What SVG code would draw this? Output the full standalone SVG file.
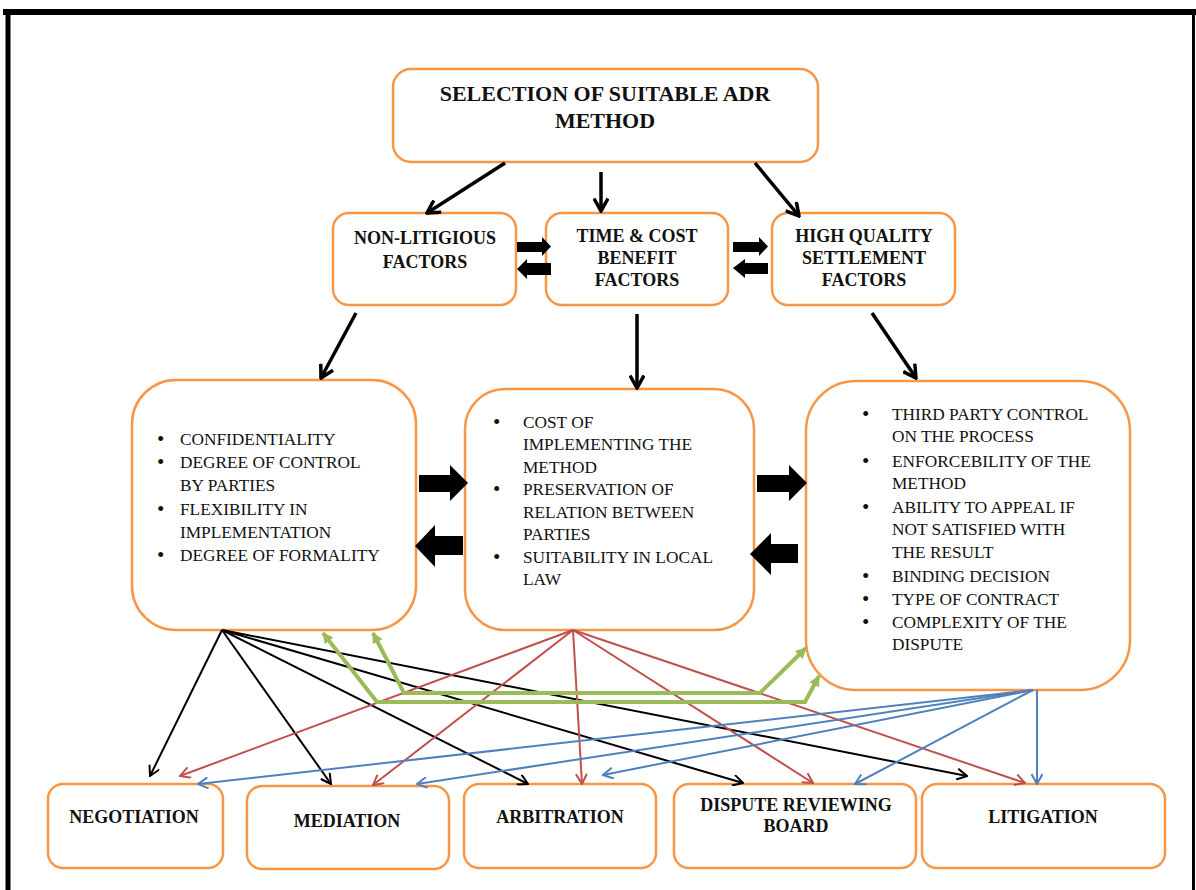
<svg xmlns="http://www.w3.org/2000/svg" width="1196" height="890" viewBox="0 0 1196 890">
<style>
.box{fill:#fff;stroke:#F79646;stroke-width:2.5}
.t{font-family:"Liberation Serif","Times New Roman",serif;fill:#111}
.h{font-weight:bold;font-size:18px;text-anchor:middle}
.ht{font-weight:bold;font-size:22px;text-anchor:middle}
.b{font-size:17.3px}
.bu{font-size:21px}
.blk{stroke:#000;stroke-width:2;fill:none;marker-end:url(#mk)}
.red{stroke:#C0504D;stroke-width:2;fill:none;marker-end:url(#mr)}
.blu{stroke:#4F81BD;stroke-width:2;fill:none;marker-end:url(#mb)}
.grn{stroke:#9BBB59;stroke-width:4;fill:none;stroke-linejoin:miter;marker-start:url(#mg);marker-end:url(#mg)}
.big{stroke:#000;stroke-width:3.5;fill:none;marker-end:url(#mK)}
.blk-arrow{fill:#000}
</style>
<defs>
<marker id="mk" markerUnits="userSpaceOnUse" viewBox="0 0 12 12" markerWidth="12" markerHeight="12" refX="11" refY="6" orient="auto"><path d="M1,0.5 L11,6 L1,11.5" fill="none" stroke="#000" stroke-width="2"/></marker>
<marker id="mr" markerUnits="userSpaceOnUse" viewBox="0 0 12 12" markerWidth="12" markerHeight="12" refX="11" refY="6" orient="auto"><path d="M1,0.5 L11,6 L1,11.5" fill="none" stroke="#C0504D" stroke-width="2"/></marker>
<marker id="mb" markerUnits="userSpaceOnUse" viewBox="0 0 12 12" markerWidth="12" markerHeight="12" refX="11" refY="6" orient="auto"><path d="M1,0.5 L11,6 L1,11.5" fill="none" stroke="#4F81BD" stroke-width="2"/></marker>
<marker id="mK" markerUnits="userSpaceOnUse" viewBox="0 0 16 16" markerWidth="16" markerHeight="16" refX="14" refY="8" orient="auto"><path d="M1.5,1 L14,8 L1.5,15" fill="none" stroke="#000" stroke-width="3.5"/></marker>
<marker id="mg" markerUnits="userSpaceOnUse" viewBox="0 0 12 12" markerWidth="12" markerHeight="12" refX="10" refY="6" orient="auto-start-reverse"><path d="M0,0.5 L11,6 L0,11.5 Z" fill="#9BBB59"/></marker>
</defs>
<rect x="0" y="0" width="1196" height="890" fill="#fff"/>
<g id="frame" fill="none" stroke="#000">
<path d="M3,12 H1196" stroke-width="6"/>
<path d="M8,10 V890" stroke-width="5"/>
<path d="M1193.5,10 V890" stroke-width="3"/>
</g>

<g id="n-top"><rect class="box" x="393" y="69" width="425" height="93" rx="18"/>
<text class="t ht" x="605" y="101">SELECTION OF SUITABLE ADR</text>
<text class="t ht" x="605" y="128">METHOD</text></g>

<g id="n-nonlit"><rect class="box" x="333" y="213" width="183" height="92" rx="16"/>
<text class="t h" x="425" y="244">NON-LITIGIOUS</text>
<text class="t h" x="425" y="268">FACTORS</text></g>

<g id="n-timecost"><rect class="box" x="546" y="213" width="182" height="92" rx="16"/>
<text class="t h" x="637" y="242">TIME &amp; COST</text>
<text class="t h" x="637" y="264">BENEFIT</text>
<text class="t h" x="637" y="286">FACTORS</text></g>

<g id="n-quality"><rect class="box" x="772" y="213" width="183" height="92" rx="16"/>
<text class="t h" x="864" y="242">HIGH QUALITY</text>
<text class="t h" x="864" y="264">SETTLEMENT</text>
<text class="t h" x="864" y="286">FACTORS</text></g>

<g id="n-list1"><rect class="box" x="132" y="380" width="284" height="250" rx="44"/>
<g class="t b">
<text class="bu" x="157" y="446">•</text><text x="180" y="445">CONFIDENTIALITY</text>
<text class="bu" x="157" y="469">•</text><text x="180" y="468">DEGREE OF CONTROL</text>
<text x="180" y="491">BY PARTIES</text>
<text class="bu" x="157" y="516">•</text><text x="180" y="515">FLEXIBILITY IN</text>
<text x="180" y="538">IMPLEMENTATION</text>
<text class="bu" x="157" y="562">•</text><text x="180" y="561">DEGREE OF FORMALITY</text>
</g></g>

<g id="n-list2"><rect class="box" x="465" y="389" width="289" height="241" rx="40"/>
<g class="t b">
<text class="bu" x="493" y="429">•</text><text x="523" y="428">COST OF</text>
<text x="523" y="450">IMPLEMENTING THE</text>
<text x="523" y="473">METHOD</text>
<text class="bu" x="493" y="496">•</text><text x="523" y="495">PRESERVATION OF</text>
<text x="523" y="518">RELATION BETWEEN</text>
<text x="523" y="540">PARTIES</text>
<text class="bu" x="493" y="564">•</text><text x="523" y="563">SUITABILITY IN LOCAL</text>
<text x="523" y="585">LAW</text>
</g></g>

<g id="n-list3"><rect class="box" x="806" y="381" width="324" height="309" rx="50"/>
<g class="t b">
<text class="bu" x="862" y="421">•</text><text x="892" y="420">THIRD PARTY CONTROL</text>
<text x="892" y="442">ON THE PROCESS</text>
<text class="bu" x="862" y="468">•</text><text x="892" y="467">ENFORCEBILITY OF THE</text>
<text x="892" y="489">METHOD</text>
<text class="bu" x="862" y="514">•</text><text x="892" y="513">ABILITY TO APPEAL IF</text>
<text x="892" y="535">NOT SATISFIED WITH</text>
<text x="892" y="558">THE RESULT</text>
<text class="bu" x="862" y="583">•</text><text x="892" y="582">BINDING DECISION</text>
<text class="bu" x="862" y="606">•</text><text x="892" y="605">TYPE OF CONTRACT</text>
<text class="bu" x="862" y="629">•</text><text x="892" y="628">COMPLEXITY OF THE</text>
<text x="892" y="650">DISPUTE</text>
</g></g>

<g id="n-negotiation"><rect class="box" x="48" y="784" width="175" height="84" rx="15"/>
<text class="t h" x="134" y="823">NEGOTIATION</text></g>
<g id="n-mediation"><rect class="box" x="247" y="786" width="202" height="83" rx="15"/>
<text class="t h" x="347" y="827">MEDIATION</text></g>
<g id="n-arbitration"><rect class="box" x="464" y="784" width="192" height="84" rx="15"/>
<text class="t h" x="560" y="823">ARBITRATION</text></g>
<g id="n-drb"><rect class="box" x="674" y="784" width="242" height="84" rx="15"/>
<text class="t h" x="796" y="811">DISPUTE REVIEWING</text>
<text class="t h" x="796" y="832">BOARD</text></g>
<g id="n-litigation"><rect class="box" x="922" y="784" width="243" height="84" rx="15"/>
<text class="t h" x="1043" y="823">LITIGATION</text></g>

<g id="connectors">
<path class="big" d="M505,163 L427,213"/>
<path class="big" d="M601,172 L601,211"/>
<path class="big" d="M755,163 L799,216"/>
<path class="big" d="M356,313 L321,378"/>
<path class="big" d="M637,314 L637,388"/>
<path class="big" d="M872,313 L916,378"/>

<polygon class="blk-arrow" points="517,242 542,242 542,237 551,246.5 542,256 542,252 517,252"/>
<polygon class="blk-arrow" points="551,263 527,263 527,259 517,269 527,279 527,275 551,275"/>
<polygon class="blk-arrow" points="733,242 759,242 759,237 768,246.5 759,256 759,252 733,252"/>
<polygon class="blk-arrow" points="768,263 745,263 745,259 733,268 745,278 745,274 768,274"/>

<polygon class="blk-arrow" points="419,475 450,475 450,465 468,483 450,501 450,492 419,492"/>
<polygon class="blk-arrow" points="463,536 435,536 435,525 415,546 435,567 435,555 463,555"/>
<polygon class="blk-arrow" points="757,475 789,475 789,465 807,483 789,501 789,492 757,492"/>
<polygon class="blk-arrow" points="798,544 771,544 771,533 750,554 771,575 771,563 798,563"/>

<path class="blk" d="M222,630 L150,776"/>
<path class="blk" d="M222,630 L331,784"/>
<path class="blk" d="M222,630 L528,784"/>
<path class="blk" d="M222,630 L743,783"/>
<path class="blk" d="M222,630 L967,776"/>

<path class="red" d="M573,630 L180,776"/>
<path class="red" d="M573,630 L373,785"/>
<path class="red" d="M573,630 L582,784"/>
<path class="red" d="M573,630 L813,783"/>
<path class="red" d="M573,630 L1025,783"/>

<path class="blu" d="M1033,690 L198,784"/>
<path class="blu" d="M1033,690 L417,784"/>
<path class="blu" d="M1033,690 L603,775"/>
<path class="blu" d="M1033,690 L855,784"/>
<path class="blu" d="M1037,690 L1037,784"/>

<path class="grn" d="M373,633 L404,693 L760,693 L806,648"/>
<path class="grn" d="M323,633 L377,702 L805,702 L819,676"/>
</g>
</svg>
